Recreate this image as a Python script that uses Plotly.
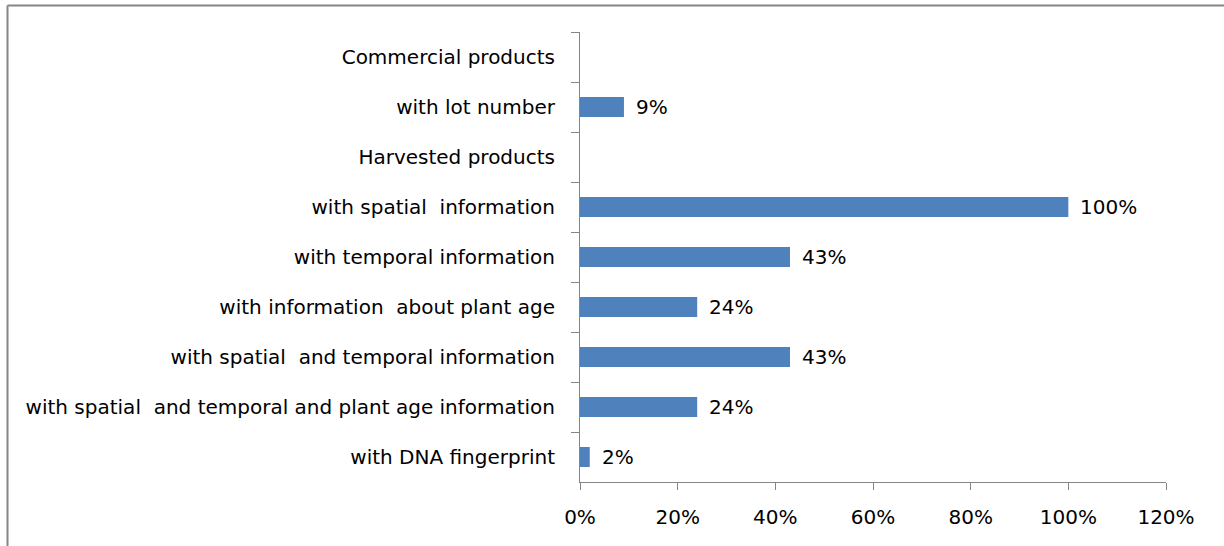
import plotly.graph_objects as go

categories = [
    "Commercial products",
    "with lot number",
    "Harvested products",
    "with spatial  information",
    "with temporal information",
    "with information  about plant age",
    "with spatial  and temporal information",
    "with spatial  and temporal and plant age information",
    "with DNA fingerprint",
]
values = [None, 0.09, None, 1.00, 0.43, 0.24, 0.43, 0.24, 0.02]
x_ticks = [0, 0.2, 0.4, 0.6, 0.8, 1.0, 1.2]
x_tick_labels = ["0%", "20%", "40%", "60%", "80%", "100%", "120%"]

W, H = 1224, 546
ML, MR, MT, MB = 580, 58, 32, 64
FONT = "DejaVu Sans"
FS = 20

fig = go.Figure()
fig.add_trace(go.Bar(
    y=categories, x=values, orientation="h",
    marker=dict(color="#4F81BD", line=dict(width=0)),
    width=0.4, showlegend=False, hoverinfo="skip",
))

annotations = []
for c, v in zip(categories, values):
    if v is None:
        continue
    annotations.append(dict(
        x=v, y=c, xref="x", yref="y", text=f"{round(v*100)}%",
        showarrow=False, xanchor="left", yanchor="middle", xshift=10,
        font=dict(family=FONT, size=FS, color="#000000"),
    ))

pw = W - ML - MR
ph = H - MT - MB
def px_to_paper_x(px):
    return (px - ML) / pw
def px_to_paper_y(py):
    return (H - MB - py) / ph

border_color = "#868686"
shapes = [
    dict(type="line", xref="paper", yref="paper",
         x0=px_to_paper_x(7.5), x1=px_to_paper_x(1230),
         y0=px_to_paper_y(5.5), y1=px_to_paper_y(5.5),
         line=dict(color=border_color, width=2)),
    dict(type="line", xref="paper", yref="paper",
         x0=px_to_paper_x(7.5), x1=px_to_paper_x(7.5),
         y0=px_to_paper_y(5.5), y1=px_to_paper_y(560),
         line=dict(color=border_color, width=2)),
]

fig.update_layout(
    width=W, height=H,
    margin=dict(l=ML, r=MR, t=MT, b=MB, pad=0),
    paper_bgcolor="white", plot_bgcolor="white",
    font=dict(family=FONT, size=FS, color="#000000"),
    bargap=0.6,
    annotations=annotations,
    shapes=shapes,
    xaxis=dict(
        range=[0, 1.2], tickvals=x_ticks, ticktext=x_tick_labels,
        showgrid=False, zeroline=False,
        showline=True, linecolor=border_color, linewidth=1,
        ticks="outside", ticklen=7, tickcolor=border_color, tickwidth=1,
        tickfont=dict(family=FONT, size=FS, color="#000000"),
        ticklabelstandoff=10,
        fixedrange=True,
    ),
    yaxis=dict(
        type="category", categoryorder="array", categoryarray=categories,
        autorange="reversed",
        showgrid=False, zeroline=False,
        showline=True, linecolor=border_color, linewidth=1,
        ticks="outside", ticklen=8, tickcolor=border_color, tickwidth=1,
        tickson="boundaries",
        tickfont=dict(family=FONT, size=FS, color="#000000"),
        ticklabelstandoff=20,
        fixedrange=True,
    ),
)

fig.write_html("out.html")
